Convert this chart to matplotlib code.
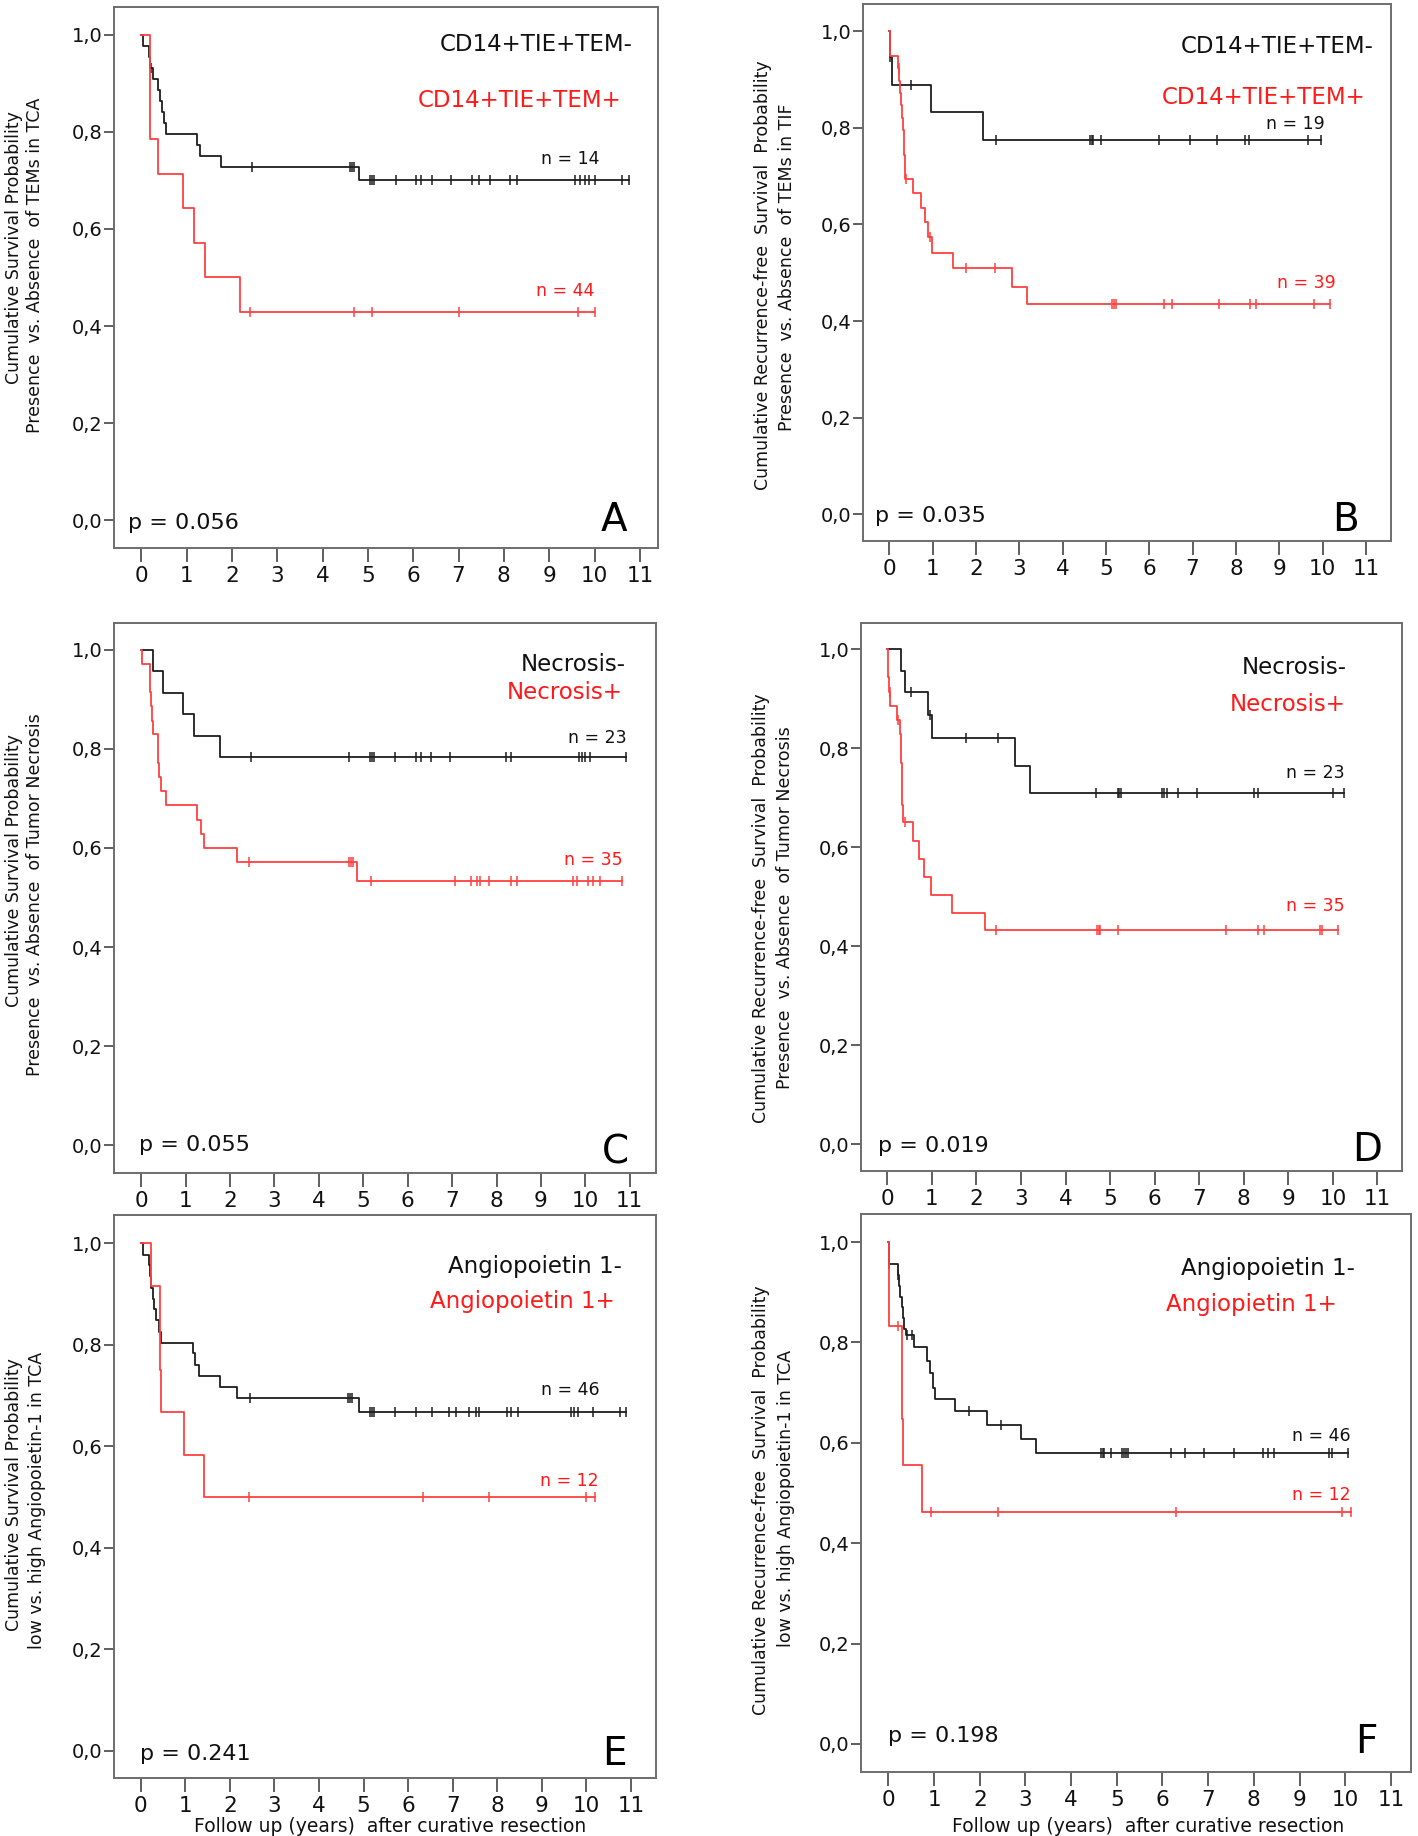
import numpy as np
import matplotlib.pyplot as plt

# Kaplan-Meier curves:
# *_t = event times (years), *_s = survival after each event, *_c = censored times

# A: survival, CD14+TIE+TEM in TCA
a_neg_t = [0.05, 0.18, 0.2, 0.27, 0.36, 0.41, 0.46, 0.5, 0.54, 1.22, 1.3, 1.75, 4.8]
a_neg_s = [0.977, 0.955, 0.932, 0.909, 0.886, 0.864, 0.841, 0.818, 0.795, 0.773, 0.75, 0.727, 0.70]
a_neg_c = [0.21, 2.44, 4.6, 4.65, 4.7, 5.04, 5.1, 5.14, 5.63, 6.07, 6.17, 6.42, 6.83, 7.3, 7.45,
           7.69, 8.14, 8.28, 9.56, 9.68, 9.78, 9.88, 10.02, 10.6, 10.76]
a_pos_t = [0.2, 0.38, 0.92, 1.17, 1.41, 2.17]
a_pos_s = [0.786, 0.714, 0.643, 0.571, 0.50, 0.429]
a_pos_c = [2.39, 4.7, 5.09, 7.0, 9.63, 10.0]

# B: recurrence-free survival, TEMs in TIF
b_neg_t = [0.02, 0.05, 0.96, 2.15]
b_neg_s = [0.947, 0.889, 0.833, 0.775]
b_neg_c = [0.02, 0.5, 2.46, 4.64, 4.67, 4.7, 4.89, 6.22, 6.94, 7.57, 8.22, 8.3, 9.67, 9.96]
b_pos_t = [0.01, 0.2, 0.23, 0.25, 0.27, 0.29, 0.31, 0.33, 0.34, 0.36, 0.37,
           0.54, 0.73, 0.82, 0.9, 0.99, 1.46, 2.83, 3.18]
b_pos_s = [0.949, 0.923, 0.897, 0.872, 0.846, 0.821, 0.795, 0.769, 0.744, 0.718, 0.693,
           0.664, 0.633, 0.605, 0.574, 0.54, 0.509, 0.471, 0.436]
b_pos_c = [0.22, 0.39, 0.93, 1.76, 2.43, 5.14, 5.18, 5.22, 6.35, 6.53, 7.6, 8.32, 8.47, 9.8, 10.18]

# C: survival, tumor necrosis
c_neg_t = [0.27, 0.49, 0.94, 1.19, 1.77]
c_neg_s = [0.957, 0.913, 0.870, 0.826, 0.783]
c_neg_c = [2.47, 4.67, 5.15, 5.2, 5.25, 5.72, 6.19, 6.3, 6.52, 6.95, 8.22, 8.32, 9.85, 9.92,
           9.99, 10.1, 10.92]
c_pos_t = [0.03, 0.19, 0.21, 0.23, 0.25, 0.27, 0.37, 0.39, 0.41, 0.45, 0.55, 1.25, 1.34, 1.42, 2.15, 4.87]
c_pos_s = [0.971, 0.943, 0.914, 0.886, 0.857, 0.829, 0.800, 0.771, 0.743, 0.714, 0.686,
           0.657, 0.629, 0.60, 0.571, 0.533]
c_pos_c = [2.42, 4.69, 4.73, 4.77, 5.17, 7.07, 7.42, 7.57, 7.62, 7.82, 8.32, 8.47, 9.72, 9.82,
           10.07, 10.17, 10.32, 10.82]

# D: recurrence-free survival, tumor necrosis
d_neg_t = [0.31, 0.40, 0.92, 1.01, 2.86, 3.2]
d_neg_s = [0.957, 0.913, 0.867, 0.821, 0.765, 0.71]
d_neg_c = [0.53, 0.96, 1.77, 2.48, 4.68, 5.17, 5.21, 5.25, 6.17, 6.22, 6.27, 6.52, 6.95, 8.24,
           8.32, 10.0, 10.25]
d_pos_t = [0.01, 0.02, 0.03, 0.07, 0.22, 0.29, 0.3, 0.31, 0.32, 0.33, 0.34, 0.36,
           0.58, 0.72, 0.82, 0.99, 1.46, 2.19]
d_pos_s = [0.971, 0.943, 0.914, 0.886, 0.857, 0.828, 0.8, 0.771, 0.743, 0.714, 0.686, 0.651,
           0.613, 0.576, 0.539, 0.503, 0.468, 0.432]
d_pos_c = [0.05, 0.25, 0.4, 2.43, 4.71, 4.75, 4.78, 5.17, 7.59, 8.32, 8.45, 9.71, 9.76, 10.11]

# E: survival, angiopoietin-1 in TCA
e_neg_t = [0.05, 0.18, 0.2, 0.23, 0.27, 0.3, 0.35, 0.4, 0.45, 1.17, 1.22, 1.3, 1.77, 2.16, 4.9]
e_neg_s = [0.978, 0.957, 0.935, 0.913, 0.891, 0.870, 0.848, 0.826, 0.804, 0.783, 0.761,
           0.739, 0.717, 0.696, 0.667]
e_neg_c = [2.46, 4.65, 4.7, 4.75, 5.14, 5.19, 5.24, 5.7, 6.18, 6.53, 6.92, 7.07, 7.37, 7.52,
           7.59, 8.21, 8.3, 8.46, 9.65, 9.72, 9.8, 10.15, 10.76, 10.89]
e_pos_t = [0.23, 0.43, 0.44, 0.46, 0.97, 1.42]
e_pos_s = [0.917, 0.833, 0.75, 0.667, 0.583, 0.50]
e_pos_c = [2.43, 6.33, 7.82, 10.0, 10.2]

# F: recurrence-free survival, angiopoietin-1 in TCA
f_neg_t = [0.01, 0.2, 0.23, 0.26, 0.29, 0.32, 0.35, 0.38, 0.57, 0.84, 0.91, 0.97, 1.02,
           1.45, 2.16, 2.9, 3.22]
f_neg_s = [0.957, 0.935, 0.913, 0.891, 0.870, 0.848, 0.826, 0.815, 0.79, 0.763, 0.74, 0.71,
           0.687, 0.663, 0.636, 0.608, 0.58]
f_neg_c = [0.02, 0.22, 0.4, 0.52, 1.77, 2.46, 4.65, 4.7, 4.73, 4.88, 5.12, 5.16, 5.2, 5.24,
           6.18, 6.49, 6.9, 7.57, 8.21, 8.31, 8.45, 9.65, 9.72, 10.07]
f_pos_t = [0.01, 0.02, 0.29, 0.3, 0.31, 0.73]
f_pos_s = [0.917, 0.833, 0.741, 0.648, 0.556, 0.463]
f_pos_c = [0.22, 0.93, 2.4, 6.3, 9.92, 10.12]

letters = ['A', 'B', 'C', 'D', 'E', 'F']
group_neg = ['CD14+TIE+TEM-', 'CD14+TIE+TEM-', 'Necrosis-', 'Necrosis-',
             'Angiopoietin 1-', 'Angiopoietin 1-']
group_pos = ['CD14+TIE+TEM+', 'CD14+TIE+TEM+', 'Necrosis+', 'Necrosis+',
             'Angiopoietin 1+', 'Angiopietin 1+']
n_neg = ['n = 14', 'n = 19', 'n = 23', 'n = 23', 'n = 46', 'n = 46']
n_pos = ['n = 44', 'n = 39', 'n = 35', 'n = 35', 'n = 12', 'n = 12']
p_values = ['p = 0.056', 'p = 0.035', 'p = 0.055', 'p = 0.019', 'p = 0.241', 'p = 0.198']
ylab1 = ['Cumulative Survival Probability',
         'Cumulative Recurrence-free  Survival  Probability',
         'Cumulative Survival Probability',
         'Cumulative Recurrence-free  Survival  Probability',
         'Cumulative Survival Probability',
         'Cumulative Recurrence-free  Survival  Probability']
ylab2 = ['Presence  vs. Absence  of TEMs in TCA',
         'Presence  vs. Absence  of TEMs in TIF',
         'Presence  vs. Absence  of Tumor Necrosis',
         'Presence  vs. Absence  of Tumor Necrosis',
         'low vs. high Angiopoietin-1 in TCA',
         'low vs. high Angiopoietin-1 in TCA']
xlabel = 'Follow up (years)  after curative resection'
y_ticks = [0.0, 0.2, 0.4, 0.6, 0.8, 1.0]
y_tick_labels = ['0,0', '0,2', '0,4', '0,6', '0,8', '1,0']
x_ticks = list(range(12))

curves = [
    (a_neg_t, a_neg_s, a_neg_c, a_pos_t, a_pos_s, a_pos_c),
    (b_neg_t, b_neg_s, b_neg_c, b_pos_t, b_pos_s, b_pos_c),
    (c_neg_t, c_neg_s, c_neg_c, c_pos_t, c_pos_s, c_pos_c),
    (d_neg_t, d_neg_s, d_neg_c, d_pos_t, d_pos_s, d_pos_c),
    (e_neg_t, e_neg_s, e_neg_c, e_pos_t, e_pos_s, e_pos_c),
    (f_neg_t, f_neg_s, f_neg_c, f_pos_t, f_pos_s, f_pos_c),
]

# layout (pixels of the 1418x1836 figure)
W, H = 1418, 1836
boxes = [(114, 7, 658, 548), (863, 3.5, 1391, 541),
         (114, 623, 656, 1173), (861, 623, 1402, 1171),
         (114, 1215, 656, 1778), (861, 1214, 1411, 1772)]
xlims = [(-0.6, 11.4), (-0.61, 11.58), (-0.61, 11.59), (-0.59, 11.55), (-0.6, 11.56), (-0.6, 11.44)]
ylims = [(-0.057, 1.057), (-0.055, 1.057), (-0.056, 1.054), (-0.054, 1.053), (-0.054, 1.056), (-0.056, 1.056)]
# text anchors in data units: group-, group+, n-, n+, p, letter
txt_pos = [
    [(10.83, 0.979), (10.59, 0.865), (10.1, 0.743), (10.0, 0.472), (-0.3, -0.006), (10.44, 0.0)],
    [(11.17, 0.968), (10.98, 0.863), (10.04, 0.808), (10.3, 0.479), (-0.34, -0.004), (10.52, -0.012)],
    [(10.92, 0.971), (10.85, 0.913), (10.92, 0.821), (10.85, 0.575), (-0.05, 0.0), (10.67, -0.014)],
    [(10.31, 0.963), (10.29, 0.889), (10.26, 0.75), (10.26, 0.481), (-0.21, -0.004), (10.76, -0.012)],
    [(10.79, 0.954), (10.64, 0.886), (10.3, 0.71), (10.27, 0.532), (-0.02, -0.006), (10.62, -0.006)],
    [(10.22, 0.948), (9.82, 0.876), (10.12, 0.614), (10.12, 0.497), (0.0, 0.016), (10.46, 0.004)],
]
ylab_x = [(14, 35), (763, 787), (14, 35), (761, 785), (14, 37), (761, 786)]
ylab_y = [(248, 265), (275, 267), (871, 895), (908, 908), (1495, 1500), (1500, 1498)]

BLACK = '#1e1e1e'
RED = '#ff4040'
RED_TXT = '#ff1a1a'
TXT = '#111111'


def level_at(times, levels, t):
    idx = np.searchsorted(times, t, side='right') - 1
    return np.where(idx < 0, 1.0, np.asarray(levels)[np.clip(idx, 0, None)])


def km(ax, times, levels, cens, color):
    end = max(max(cens), times[-1])
    x = [0.0] + list(times) + [end]
    y = [1.0] + list(levels) + [levels[-1]]
    ax.step(x, y, where='post', color=color, lw=1.3)
    ct = np.array(cens)
    ax.plot(ct, level_at(times, levels, ct), ls='none', marker='|', ms=7,
            mew=1.1, color=color)


fig = plt.figure(figsize=(W / 100, H / 100), dpi=100)

for i in range(6):
    l, t, r, b = boxes[i]
    ax = fig.add_axes([l / W, 1 - b / H, (r - l) / W, (b - t) / H])
    nt, ns, nc, pt, ps, pc = curves[i]
    km(ax, nt, ns, nc, BLACK)
    km(ax, pt, ps, pc, RED)

    ax.set_xlim(*xlims[i])
    ax.set_ylim(*ylims[i])
    ax.set_xticks(x_ticks)
    ax.set_xticklabels([str(v) for v in x_ticks])
    ax.set_yticks(y_ticks)
    ax.set_yticklabels(y_tick_labels)
    ax.tick_params(axis='x', length=10, width=1.2, color='#444444', pad=3,
                   labelsize=15.5, labelcolor=TXT)
    ax.tick_params(axis='y', length=7, width=1.2, color='#444444', pad=1.5,
                   labelsize=14, labelcolor=TXT)
    for sp in ax.spines.values():
        sp.set_color('#6e6e6e')
        sp.set_linewidth(1.4)

    pos = txt_pos[i]
    ax.text(*pos[0], group_neg[i], ha='right', va='center', fontsize=16.5, color=TXT)
    ax.text(*pos[1], group_pos[i], ha='right', va='center', fontsize=16.5, color=RED_TXT)
    ax.text(*pos[2], n_neg[i], ha='right', va='center', fontsize=12.5, color=TXT)
    ax.text(*pos[3], n_pos[i], ha='right', va='center', fontsize=12.5, color=RED_TXT)
    ax.text(*pos[4], p_values[i], ha='left', va='center', fontsize=16, color=TXT)
    ax.text(*pos[5], letters[i], ha='center', va='center', fontsize=28, color='#000000')

    fig.text(ylab_x[i][0] / W, 1 - ylab_y[i][0] / H, ylab1[i], rotation=90,
             ha='center', va='center', fontsize=12.5, color=TXT)
    fig.text(ylab_x[i][1] / W, 1 - ylab_y[i][1] / H, ylab2[i], rotation=90,
             ha='center', va='center', fontsize=12.5, color=TXT)

fig.text(390 / W, 1 - 1826 / H, xlabel, ha='center', va='center', fontsize=13.5, color=TXT)
fig.text(1148 / W, 1 - 1826 / H, xlabel, ha='center', va='center', fontsize=13.5, color=TXT)

fig.savefig('out.png', dpi=100)
